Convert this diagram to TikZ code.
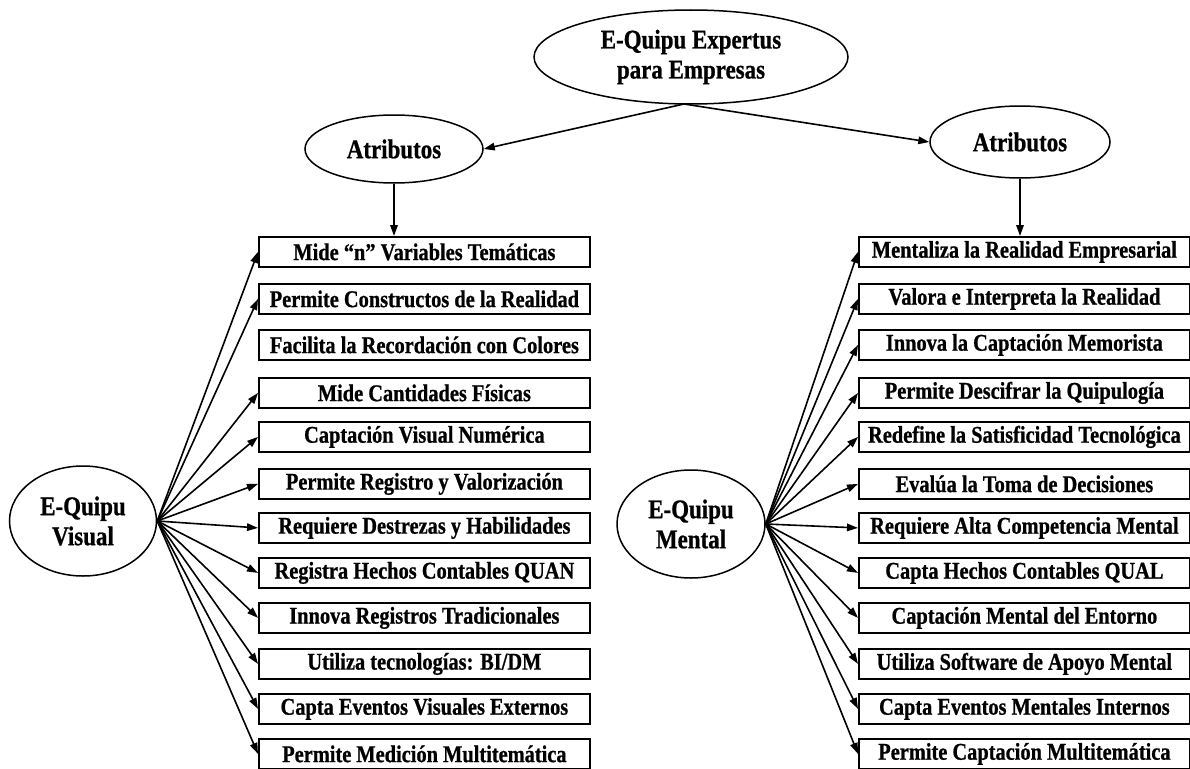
\documentclass[tikz,border=0pt]{standalone}
\usepackage{fontspec}
\setmainfont{Liberation Serif}[FakeStretch=0.85,BoldFeatures={FakeBold=0.8}]
\usetikzlibrary{shapes.geometric,arrows.meta}
\begin{document}
\begin{tikzpicture}[x=1pt,y=-1pt,
  box/.style={draw, line width=1.8pt, minimum width=331pt, minimum height=30pt, inner sep=0pt, anchor=north west, font=\fontsize{24}{26}\selectfont\bfseries},
  oval/.style={draw, ellipse, line width=1.5pt, inner sep=0pt, align=center, font=\fontsize{27}{30}\selectfont\bfseries},
  arr/.style={line width=1.6pt, -{Triangle[length=11pt,width=7.5pt]}}]
\useasboundingbox[fill=white] (0,0) rectangle (1190,768);

\node[oval, minimum width=314pt, minimum height=94pt] (top) at (691,57) {E-Quipu Expertus\\para Empresas};
\node[oval, minimum width=178pt, minimum height=68pt] (attrL) at (394,149) {Atributos};
\node[oval, minimum width=180pt, minimum height=72pt] (attrR) at (1020,142) {Atributos};
\node[oval, minimum width=147pt, minimum height=110pt] (vis) at (83,521) {E-Quipu\\Visual};
\node[oval, minimum width=148pt, minimum height=108pt] (men) at (691,524) {E-Quipu\\Mental};

\foreach \i/\y/\t in {
  1/236/{Mide “n” Variables Temáticas},
  2/283/{Permite Constructos de la Realidad},
  3/329/{Facilita la Recordación con Colores},
  4/377/{Mide Cantidades Físicas},
  5/421/{Captación Visual Numérica},
  6/468/{Permite Registro y Valorización},
  7/512/{Requiere Destrezas y Habilidades},
  8/557/{Registra Hechos Contables QUAN},
  9/602/{Innova Registros Tradicionales},
  10/648/{Utiliza tecnologías: BI/DM},
  11/693/{Capta Eventos Visuales Externos},
  12/738/{Permite Medición Multitemática}}
  \node[box] (L\i) at (258,\y) {\t};

\foreach \i/\y/\t in {
  1/236/{Mentaliza la Realidad Empresarial},
  2/283/{Valora e Interpreta la Realidad},
  3/329/{Innova la Captación Memorista},
  4/377/{Permite Descifrar la Quipulogía},
  5/421/{Redefine la Satisficidad Tecnológica},
  6/468/{Evalúa la Toma de Decisiones},
  7/512/{Requiere Alta Competencia Mental},
  8/557/{Capta Hechos Contables QUAL},
  9/602/{Captación Mental del Entorno},
  10/648/{Utiliza Software de Apoyo Mental},
  11/693/{Capta Eventos Mentales Internos},
  12/738/{Permite Captación Multitemática}}
  \node[box] (R\i) at (858,\y) {\t};

\coordinate (tb) at (684,104);
\draw[arr] (tb) -- (attrL.east);
\draw[arr] (tb) -- (attrR.west);
\draw[arr] (attrL.south) -- (attrL.south |- L1.north);
\draw[arr] (attrR.south) -- (attrR.south |- R1.north);

\foreach \i in {1,2,4,5,6,7,8,9,10,11,12}
  \draw[arr] (vis.east) -- (L\i.west);
\foreach \i in {1,...,12}
  \draw[arr] (men.east) -- (R\i.west);
\end{tikzpicture}
\end{document}
